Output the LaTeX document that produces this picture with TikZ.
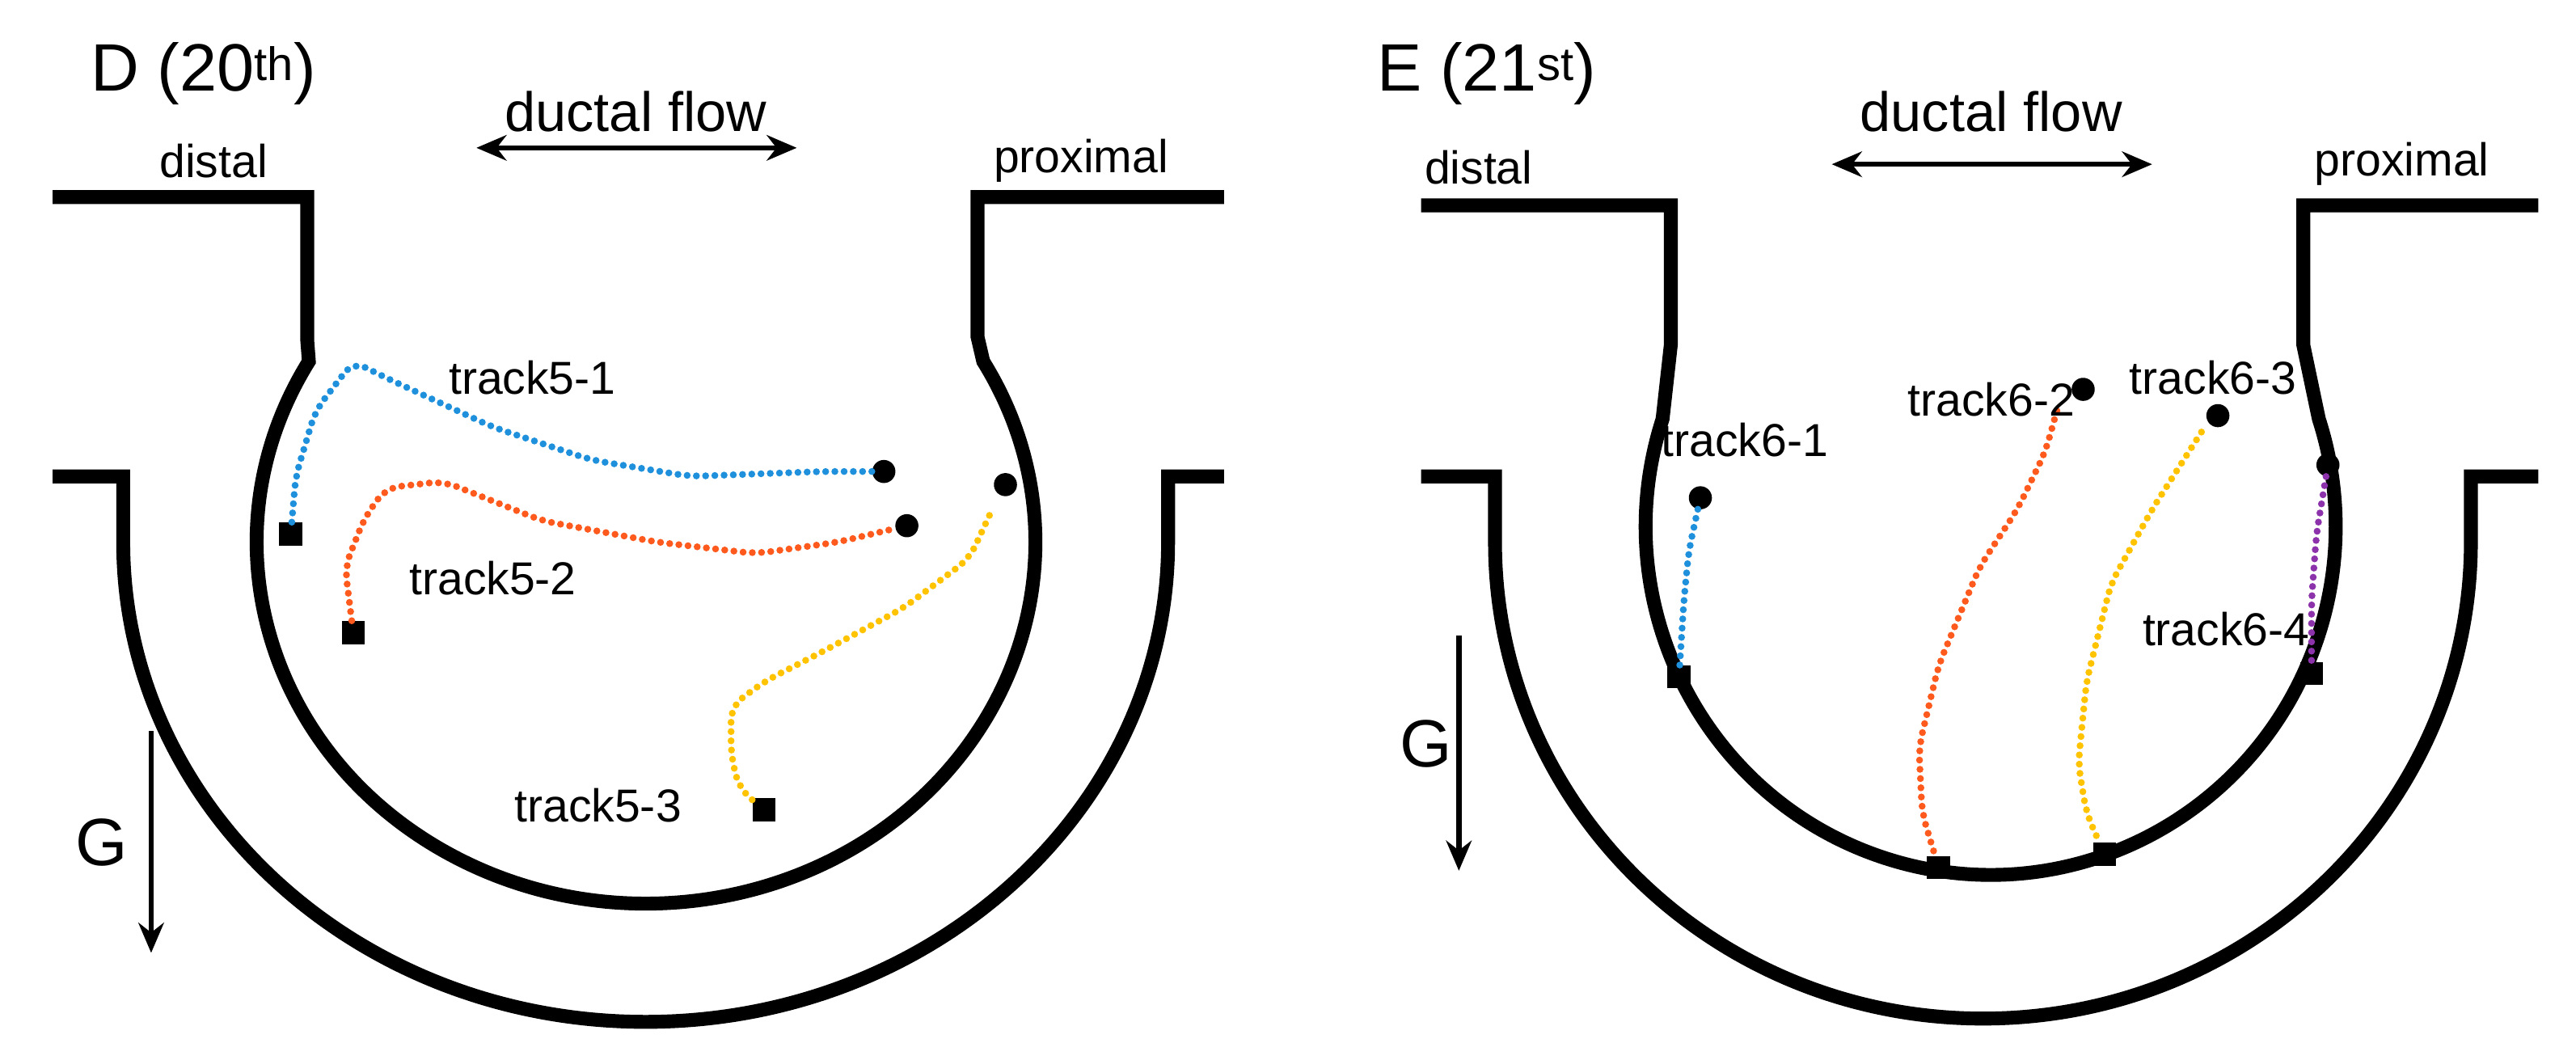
\documentclass[tikz,border=0pt]{standalone}
\usepackage{fontspec}
\setmainfont{Liberation Sans}
\usetikzlibrary{arrows.meta}
\definecolor{tb}{RGB}{30,144,220}
\definecolor{to}{RGB}{255,90,30}
\definecolor{ty}{RGB}{255,195,0}
\definecolor{tp}{RGB}{140,50,170}
\begin{document}
\begin{tikzpicture}[x=0.05cm,y=0.05cm,
 wall/.style={line width=12pt,line join=miter},
 lab/.style={font=\fontsize{40}{48}\selectfont,inner sep=0pt},
 flow/.style={font=\fontsize{48}{56}\selectfont,inner sep=0pt},
 gl/.style={font=\fontsize{58}{66}\selectfont,inner sep=0pt},
 title/.style={font=\fontsize{58}{66}\selectfont,inner sep=0pt,anchor=west},
 arr/.style={line width=4.5pt,-{Stealth[length=26pt,width=22pt]}},
 darr/.style={line width=4.5pt,{Stealth[length=26pt,width=22pt]}-{Stealth[length=26pt,width=22pt]}},
 trk/.style={line width=6pt,line cap=round,dash pattern=on 0pt off 8pt,rounded corners=12pt},
 sq/.style={fill=black,minimum size=20pt,inner sep=0pt,draw=none},
 ci/.style={circle,fill=black,minimum size=20pt,inner sep=0pt}]
\useasboundingbox[fill=white] (0,0) rectangle (1568,645);
\begin{scope}[yshift=-0.5cm]
% ---------- Panel D ----------
\node[title] (tD) at (55,610) {D (20\textsuperscript{th})};
\node[lab] (d1) at (130,557) {distal};
\node[flow] (f1) at (387,587) {ductal flow};
\node[lab] (p1) at (658,557) {proximal};
\coordinate (fa1) at (290,565); \coordinate (fb1) at (485,565);
\draw[darr] (fa1) -- (fb1);
\draw[wall] (32,535) -- (187,535) -- (187,448) -- (188,435) arc[start angle=150,end angle=390,x radius=237,y radius=220] -- (595,450) -- (595,535) -- (745,535);
\draw[wall] (32,365) -- (75,365) -- (75,325) arc[start angle=180,end angle=360,x radius=318,y radius=292] -- (711,365) -- (745,365);
\node[gl] (g1) at (62,142) {G};
\coordinate (ga1) at (92,210); \coordinate (gb1) at (92,75);
\draw[arr] (ga1) -- (gb1);
% tracks
\node[sq] (s51) at (177,330) {}; \node[ci] (c51) at (538,368) {};
\draw[trk,tb] (s51) -- (180,365) -- (192,405) -- (215,435) -- (235,425) -- (300,395) -- (360,375) -- (420,365) -- (500,368) -- (c51);
\node[sq] (s52) at (215,270) {}; \node[ci] (c52) at (552,335) {};
\draw[trk,to] (s52) -- (210,310) -- (222,340) -- (235,358) -- (270,362) -- (300,350) -- (330,338) -- (400,325) -- (460,318) -- (510,325) -- (c52);
\node[sq] (s53) at (465,162) {}; \node[ci] (c53) at (612,360) {};
\draw[trk,ty] (s53) -- (450,175) -- (445,195) -- (445,225) -- (465,240) -- (500,258) -- (550,285) -- (590,315) -- (604,345);
\node[lab] (l51) at (324,425) {track5-1};
\node[lab] (l52) at (300,303) {track5-2};
\node[lab] (l53) at (364,165) {track5-3};
% ---------- Panel E ----------
\node[title] (tE) at (838,610) {E (21\textsuperscript{st})};
\node[lab] (d2) at (900,553) {distal};
\node[flow] (f2) at (1212,587) {ductal flow};
\node[lab] (p2) at (1462,555) {proximal};
\coordinate (fa2) at (1115,555); \coordinate (fb2) at (1310,555);
\draw[darr] (fa2) -- (fb2);
\draw[wall] (865,530) -- (1017,530) -- (1017,445) -- (1012,400) arc[start angle=162,end angle=378,x radius=210,y radius=212] -- (1402,445) -- (1402,530) -- (1545,530);
\draw[wall] (865,365) -- (910,365) -- (910,325) arc[start angle=180,end angle=360,x radius=297,y radius=290] -- (1504,365) -- (1545,365);
\node[gl] (g2) at (868,202) {G};
\coordinate (ga2) at (888,268); \coordinate (gb2) at (888,125);
\draw[arr] (ga2) -- (gb2);
\node[sq] (s61) at (1022,243) {}; \node[ci] (c61) at (1035,352) {};
\draw[trk,tb] (c61) -- (1028,320) -- (1025,290) -- (s61);
\node[sq] (s62) at (1180,127) {}; \node[ci] (c62) at (1268,418) {};
\draw[trk,to] (1252,405) -- (1245,380) -- (1228,345) -- (1205,310) -- (1180,250) -- (1168,200) -- (1170,160) -- (s62);
\node[sq] (s63) at (1281,135) {}; \node[ci] (c63) at (1350,402) {};
\draw[trk,ty] (1340,392) -- (1310,345) -- (1285,300) -- (1270,240) -- (1265,190) -- (1270,160) -- (s63);
\node[sq] (s64) at (1407,245) {}; \node[ci] (c64) at (1417,372) {};
\draw[trk,tp] (c64) -- (1410,330) -- (1407,290) -- (s64);
\node[lab] (l61) at (1062,387) {track6-1};
\node[lab] (l62) at (1212,412) {track6-2};
\node[lab] (l63) at (1347,425) {track6-3};
\node[lab] (l64) at (1355,272) {track6-4};
\end{scope}
\end{tikzpicture}
\end{document}
